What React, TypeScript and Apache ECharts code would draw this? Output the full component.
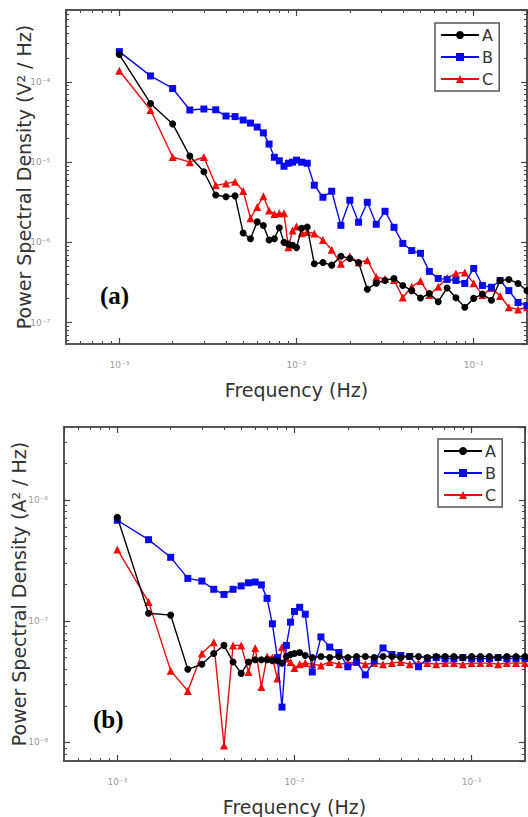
import React, { useEffect, useRef } from 'react';
import * as echarts from 'echarts';

// Frequencies (Hz)
const freq = [
  0.001, 0.0015, 0.002, 0.0025, 0.003, 0.0035, 0.004, 0.0045, 0.005, 0.0055,
  0.006, 0.0065, 0.007, 0.0075, 0.008, 0.0085, 0.009, 0.0095, 0.01, 0.0107,
  0.0115, 0.0126, 0.0141, 0.0158, 0.0178, 0.02, 0.0224, 0.0251, 0.0282, 0.0316,
  0.0355, 0.0398, 0.0447, 0.0501, 0.0562, 0.0631, 0.0708, 0.0794, 0.0891, 0.1,
  0.112, 0.126, 0.141, 0.158, 0.178, 0.2,
];

// Panel (a): voltage PSD (V^2/Hz)
const psdVA = [
  2.2e-4, 5.4e-5, 3.0e-5, 1.19e-5, 7.6e-6, 3.9e-6, 3.7e-6, 3.8e-6, 1.31e-6, 1.11e-6,
  1.8e-6, 1.62e-6, 1.07e-6, 1.11e-6, 1.52e-6, 1.0e-6, 9.5e-7, 9.2e-7, 8.6e-7, 1.5e-6,
  1.55e-6, 5.4e-7, 5.6e-7, 5.2e-7, 6.7e-7, 6.3e-7, 5.6e-7, 2.6e-7, 3.1e-7, 3.35e-7,
  3.55e-7, 2.9e-7, 2.5e-7, 2.02e-7, 2.3e-7, 1.82e-7, 2.7e-7, 2.04e-7, 1.55e-7, 2.0e-7,
  2.26e-7, 1.9e-7, 3.35e-7, 3.45e-7, 3.07e-7, 2.5e-7,
];
const psdVB = [
  2.39e-4, 1.19e-4, 8.3e-5, 4.47e-5, 4.6e-5, 4.5e-5, 3.76e-5, 3.7e-5, 3.35e-5, 3.07e-5,
  2.74e-5, 2.32e-5, 1.68e-5, 1.15e-5, 1.04e-5, 8.9e-6, 9.7e-6, 1.0e-5, 1.06e-5, 1.0e-5,
  9.7e-6, 5.16e-6, 3.65e-6, 4.34e-6, 1.63e-6, 3.35e-6, 1.78e-6, 3.16e-6, 1.68e-6, 2.44e-6,
  1.54e-6, 9.7e-7, 7.9e-7, 7.3e-7, 4.34e-7, 3.55e-7, 3.45e-7, 3.35e-7, 3.07e-7, 4.73e-7,
  2.9e-7, 2.75e-7, 3.35e-7, 2.5e-7, 1.78e-7, 1.63e-7,
];
const psdVC = [
  1.38e-4, 4.47e-5, 1.16e-5, 1.0e-5, 1.16e-5, 5.16e-6, 5.4e-6, 5.7e-6, 4.38e-6, 2.0e-6,
  2.76e-6, 3.76e-6, 2.5e-6, 2.25e-6, 2.3e-6, 2.3e-6, 8.7e-7, 1.41e-6, 1.58e-6, 1.3e-6,
  1.35e-6, 1.29e-6, 1.07e-6, 8.1e-7, 5.4e-7, 6.7e-7, 5.6e-7, 6.0e-7, 3.7e-7, 3.5e-7,
  3.4e-7, 2.05e-7, 2.8e-7, 3.3e-7, 2.2e-7, 2.8e-7, 3.6e-7, 4.1e-7, 4.2e-7, 3.1e-7,
  2.2e-7, 2.7e-7, 2.15e-7, 1.55e-7, 1.45e-7, 1.55e-7,
];

// Panel (b): current PSD (A^2/Hz)
const psdIA = [
  7.2e-7, 1.16e-7, 1.12e-7, 4.0e-8, 4.4e-8, 5.4e-8, 6.3e-8, 4.6e-8, 3.7e-8, 4.6e-8,
  4.8e-8, 4.8e-8, 4.8e-8, 4.7e-8, 4.7e-8, 4.5e-8, 5.1e-8, 5.3e-8, 5.4e-8, 5.5e-8,
  5.2e-8, 5.0e-8, 5.1e-8, 5.0e-8, 5.1e-8, 5.0e-8, 5.1e-8, 5.1e-8, 5.0e-8, 5.1e-8,
  5.1e-8, 5.0e-8, 5.1e-8, 5.1e-8, 5.0e-8, 5.1e-8, 5.1e-8, 5.1e-8, 5.0e-8, 5.1e-8,
  5.1e-8, 5.1e-8, 5.0e-8, 5.1e-8, 5.1e-8, 5.1e-8,
];
const psdIB = [
  6.8e-7, 4.7e-7, 3.36e-7, 2.25e-7, 2.14e-7, 1.83e-7, 1.66e-7, 1.83e-7, 1.95e-7, 2.07e-7,
  2.1e-7, 1.99e-7, 1.54e-7, 9.5e-8, 5.0e-8, 1.95e-8, 6.3e-8, 9.8e-8, 1.2e-7, 1.3e-7,
  1.14e-7, 3.8e-8, 7.4e-8, 6.1e-8, 5.5e-8, 4.2e-8, 4.6e-8, 3.6e-8, 4.7e-8, 6.0e-8,
  5.3e-8, 5.2e-8, 5.1e-8, 4.2e-8, 4.9e-8, 5.0e-8, 4.9e-8, 4.9e-8, 5.0e-8, 4.9e-8,
  4.9e-8, 4.9e-8, 5.0e-8, 4.9e-8, 4.9e-8, 4.9e-8,
];
const psdIC = [
  3.9e-7, 1.44e-7, 3.9e-8, 2.65e-8, 5.4e-8, 6.7e-8, 9.4e-9, 6.3e-8, 6.3e-8, 3.8e-8,
  6.0e-8, 2.86e-8, 5.1e-8, 5.0e-8, 3.36e-8, 6.1e-8, 4.9e-8, 4.6e-8, 4.1e-8, 4.4e-8,
  4.5e-8, 4.4e-8, 4.3e-8, 4.6e-8, 4.4e-8, 4.5e-8, 4.6e-8, 4.4e-8, 4.5e-8, 4.4e-8,
  4.5e-8, 4.6e-8, 4.4e-8, 4.5e-8, 4.5e-8, 4.4e-8, 4.5e-8, 4.5e-8, 4.4e-8, 4.5e-8,
  4.5e-8, 4.5e-8, 4.4e-8, 4.5e-8, 4.5e-8, 4.5e-8,
];

// Axis ranges and minor tick positions
const xRange = [5e-4, 0.2];
const yRangeA = [5.4e-8, 7.9e-4];
const yRangeB = [7e-9, 4e-6];
const xMinor = [
  6e-4, 7e-4, 8e-4, 9e-4, 2e-3, 3e-3, 4e-3, 5e-3, 6e-3, 7e-3, 8e-3, 9e-3,
  2e-2, 3e-2, 4e-2, 5e-2, 6e-2, 7e-2, 8e-2, 9e-2,
];
const yMinorA = [
  6e-8, 7e-8, 8e-8, 9e-8, 2e-7, 3e-7, 4e-7, 5e-7, 6e-7, 7e-7, 8e-7, 9e-7,
  2e-6, 3e-6, 4e-6, 5e-6, 6e-6, 7e-6, 8e-6, 9e-6, 2e-5, 3e-5, 4e-5, 5e-5,
  6e-5, 7e-5, 8e-5, 9e-5, 2e-4, 3e-4, 4e-4, 5e-4, 6e-4, 7e-4,
];
const yMinorB = [
  8e-9, 9e-9, 2e-8, 3e-8, 4e-8, 5e-8, 6e-8, 7e-8, 8e-8, 9e-8,
  2e-7, 3e-7, 4e-7, 5e-7, 6e-7, 7e-7, 8e-7, 9e-7, 2e-6, 3e-6,
];

const seriesNames = ['A', 'B', 'C'];
const colors = ['#000000', '#0a0af0', '#f00a0a'];
const symbols = ['circle', 'rect', 'triangle'];
const symbolSizes = [7, 7, 8];

const SUP: Record<string, string> = {
  '-': '\u207B', '0': '\u2070', '1': '\u00B9', '2': '\u00B2', '3': '\u00B3',
  '4': '\u2074', '5': '\u2075', '6': '\u2076', '7': '\u2077', '8': '\u2078', '9': '\u2079',
};
const powLabel = (v: number) => {
  const e = Math.log10(v);
  if (Math.abs(e - Math.round(e)) > 1e-6) return '';
  return '10' + String(Math.round(e)).split('').map((c) => SUP[c] || c).join('');
};

const FRAME = '#555555';
const TICK = '#444444';
const FONT = '"DejaVu Sans", sans-serif';
const GRID_W = 461;
const GRID_H = 334;
const MAJOR_LEN = 6;
const MINOR_LEN = 3;
const lg = (v: number) => Math.log10(v);

const labelStyle = { color: '#9a9a9a', fontSize: 9, fontFamily: FONT };
const titleStyle = { fontSize: 19, color: '#333', fontFamily: FONT };

function mainX(gridIndex: number) {
  return {
    type: 'log', logBase: 10, gridIndex, min: xRange[0], max: xRange[1], position: 'bottom',
    splitLine: { show: false },
    axisLine: { show: true, lineStyle: { color: FRAME, width: 2 } },
    axisTick: { show: true, inside: true, length: MAJOR_LEN, lineStyle: { color: TICK, width: 1.2 } },
    axisLabel: { show: true, formatter: powLabel, margin: 16, showMinLabel: false, showMaxLabel: false, ...labelStyle },
    name: 'Frequency (Hz)', nameLocation: 'middle', nameGap: 36, nameMoveOverlap: false,
    nameTextStyle: titleStyle,
  };
}
function topX(gridIndex: number) {
  return {
    type: 'log', logBase: 10, gridIndex, min: xRange[0], max: xRange[1], position: 'top',
    splitLine: { show: false }, axisLine: { show: false },
    axisTick: { show: true, inside: true, length: MAJOR_LEN, lineStyle: { color: TICK, width: 1.2 } },
    axisLabel: { show: false },
  };
}
// Linear axes over log10(frequency): they carry the minor ticks at log positions.
function minorX(gridIndex: number, position: string) {
  return {
    type: 'value', gridIndex, min: lg(xRange[0]), max: lg(xRange[1]), position,
    splitLine: { show: false }, axisLine: { show: false },
    axisTick: { show: true, inside: true, length: MINOR_LEN, customValues: xMinor.map(lg), lineStyle: { color: TICK, width: 1 } },
    axisLabel: { show: false },
  };
}
function mainY(gridIndex: number, range: number[], title: string, gap: number) {
  return {
    type: 'log', logBase: 10, gridIndex, min: range[0], max: range[1], position: 'left',
    splitLine: { show: false },
    axisLine: { show: true, lineStyle: { color: FRAME, width: 2 } },
    axisTick: { show: true, inside: true, length: MAJOR_LEN, lineStyle: { color: TICK, width: 1.2 } },
    axisLabel: { show: true, formatter: powLabel, margin: 16, showMinLabel: false, showMaxLabel: false, ...labelStyle },
    name: title, nameLocation: 'middle', nameGap: gap, nameRotate: 90, nameMoveOverlap: false,
    nameTextStyle: titleStyle,
  };
}
function rightY(gridIndex: number, range: number[]) {
  return {
    type: 'log', logBase: 10, gridIndex, min: range[0], max: range[1], position: 'right',
    splitLine: { show: false }, axisLine: { show: false },
    axisTick: { show: true, inside: true, length: MAJOR_LEN, lineStyle: { color: TICK, width: 1.2 } },
    axisLabel: { show: false },
  };
}
function minorY(gridIndex: number, range: number[], minor: number[], position: string) {
  return {
    type: 'value', gridIndex, min: lg(range[0]), max: lg(range[1]), position,
    splitLine: { show: false }, axisLine: { show: false },
    axisTick: { show: true, inside: true, length: MINOR_LEN, customValues: minor.map(lg), lineStyle: { color: TICK, width: 1 } },
    axisLabel: { show: false },
  };
}

function makeSeries(axisIndex: number, values: number[][]) {
  const order = [2, 1, 0]; // C, B, A so that A is drawn on top
  return order.map((k) => ({
    type: 'line',
    name: seriesNames[k],
    xAxisIndex: axisIndex,
    yAxisIndex: axisIndex,
    data: freq.map((f, i) => [f, values[k][i]]),
    symbol: symbols[k],
    symbolSize: symbolSizes[k],
    showAllSymbol: true,
    color: colors[k],
    itemStyle: { color: colors[k] },
    lineStyle: { color: colors[k], width: 1.4 },
    z: 3 + (2 - k),
  }));
}

function makeLegend(left: number, top: number) {
  return {
    data: seriesNames,
    orient: 'vertical',
    left,
    top,
    itemWidth: 38,
    itemHeight: 10,
    itemGap: 6,
    padding: [4, 6, 4, 5],
    borderColor: FRAME,
    borderWidth: 1.5,
    backgroundColor: '#fff',
    textStyle: { fontSize: 16, color: '#333', fontFamily: FONT, padding: [0, 0, 0, -2] },
  };
}

export default function App() {
  const ref = useRef<HTMLDivElement>(null);
  useEffect(() => {
    if (!ref.current) return;
    const chart = echarts.init(ref.current, undefined, { renderer: 'svg' });
    const gridBase = {
      width: GRID_W, height: GRID_H, show: true, borderColor: FRAME, borderWidth: 2,
      backgroundColor: 'transparent', outerBoundsMode: 'none', containLabel: false,
    };
    const option: any = {
      animation: false,
      backgroundColor: '#ffffff',
      grid: [
        { ...gridBase, left: 66, top: 10 },
        { ...gridBase, left: 64, top: 427 },
      ],
      xAxis: [
        mainX(0), mainX(1),
        topX(0), topX(1),
        minorX(0, 'bottom'), minorX(1, 'bottom'),
        minorX(0, 'top'), minorX(1, 'top'),
      ],
      yAxis: [
        mainY(0, yRangeA, 'Power Spectral Density (V\u00B2 / Hz)', 33),
        mainY(1, yRangeB, 'Power Spectral Density (A\u00B2 / Hz)', 36),
        rightY(0, yRangeA), rightY(1, yRangeB),
        minorY(0, yRangeA, yMinorA, 'left'), minorY(1, yRangeB, yMinorB, 'left'),
        minorY(0, yRangeA, yMinorA, 'right'), minorY(1, yRangeB, yMinorB, 'right'),
      ],
      legend: [makeLegend(435, 23), makeLegend(438, 439)],
      series: [
        ...makeSeries(0, [psdVA, psdVB, psdVC]),
        ...makeSeries(1, [psdIA, psdIB, psdIC]),
      ],
      graphic: [
        { type: 'text', left: 100, top: 283, style: { text: '(a)', font: 'bold 25px "Liberation Serif", serif', fill: '#000' } },
        { type: 'text', left: 93, top: 707, style: { text: '(b)', font: 'bold 25px "Liberation Serif", serif', fill: '#000' } },
      ],
    };
    chart.setOption(option);
    return () => chart.dispose();
  }, []);
  return (
    <div
      ref={ref}
      style={{ position: 'absolute', left: 0, top: 0, width: 528, height: 817, background: '#fff' }}
    />
  );
}
